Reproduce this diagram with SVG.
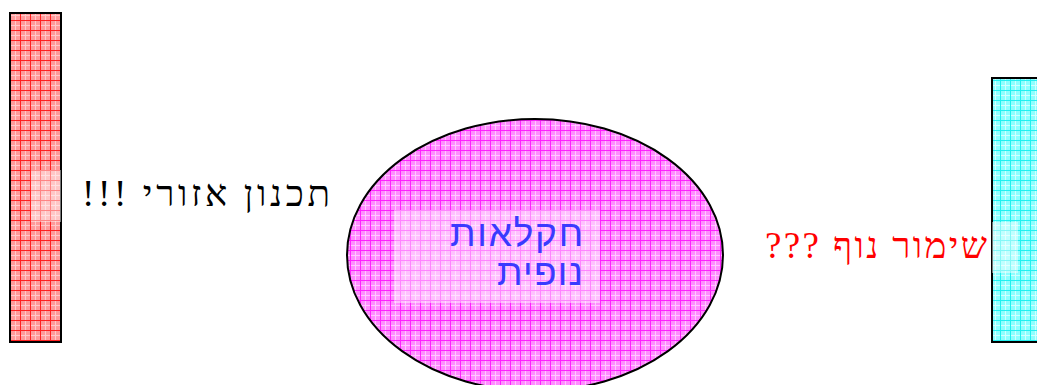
<svg xmlns="http://www.w3.org/2000/svg" width="1037" height="385" viewBox="0 0 1037 385">
<defs>
<pattern id="pRed" width="10" height="10" patternUnits="userSpaceOnUse">
<rect width="10" height="10" fill="#ff9a9a"/>
<rect x="5" y="0" width="1" height="10" fill="#ffc8c8"/>
<rect x="0" y="5" width="10" height="1" fill="#ffc8c8"/>
<rect x="0" y="0" width="1" height="10" fill="#ff2020"/>
<rect x="0" y="0" width="10" height="1" fill="#ff2020"/>
</pattern>
<pattern id="pMag" width="10" height="10" patternUnits="userSpaceOnUse">
<rect width="10" height="10" fill="#ff8cff"/>
<rect x="5" y="0" width="1" height="10" fill="#ffc8ff"/>
<rect x="0" y="5" width="10" height="1" fill="#ffc8ff"/>
<rect x="0" y="0" width="1" height="10" fill="#ff20ff"/>
<rect x="0" y="0" width="10" height="1" fill="#ff20ff"/>
</pattern>
<pattern id="pCyan" width="10" height="10" patternUnits="userSpaceOnUse">
<rect width="10" height="10" fill="#8cffff"/>
<rect x="5" y="0" width="1" height="10" fill="#d0ffff"/>
<rect x="0" y="5" width="10" height="1" fill="#d0ffff"/>
<rect x="0" y="0" width="1" height="10" fill="#20f0f0"/>
<rect x="0" y="0" width="10" height="1" fill="#20f0f0"/>
</pattern>
</defs>
<style>
.shape{stroke:#000;stroke-width:2}
.hl{fill:#fff;fill-opacity:0.45}
.lbl{font-family:"Liberation Serif","DejaVu Serif",serif;font-size:37px;direction:rtl;unicode-bidi:embed;text-anchor:start}
.mid{font-family:"Liberation Sans","DejaVu Sans",sans-serif;font-size:37px;fill:#3a3aff;direction:rtl;unicode-bidi:embed;text-anchor:start}
</style>
<g id="connectors"></g>
<g id="regional-planning">
<rect class="shape" x="10" y="13" width="51" height="329" fill="url(#pRed)"/>
<rect class="hl" x="31" y="170" width="30" height="52"/>
<text class="lbl" x="330" y="206" fill="#000" textLength="248" lengthAdjust="spacing">תכנון אזורי !!!</text>
</g>
<g id="landscape-agriculture">
<ellipse class="shape" cx="535" cy="255" rx="188" ry="136" fill="url(#pMag)"/>
<rect class="hl" x="394" y="210" width="206" height="93"/>
<text class="mid" x="583" y="246" textLength="133" lengthAdjust="spacing">חקלאות</text>
<text class="mid" x="583" y="285" textLength="86" lengthAdjust="spacing">נופית</text>
</g>
<g id="landscape-preservation">
<rect class="shape" x="992" y="78" width="50" height="264" fill="url(#pCyan)"/>
<rect class="hl" x="992" y="222" width="26" height="51"/>
<text class="lbl" x="987" y="258" fill="#ff0000" textLength="222" lengthAdjust="spacing">שימור נוף ???</text>
</g>
</svg>
